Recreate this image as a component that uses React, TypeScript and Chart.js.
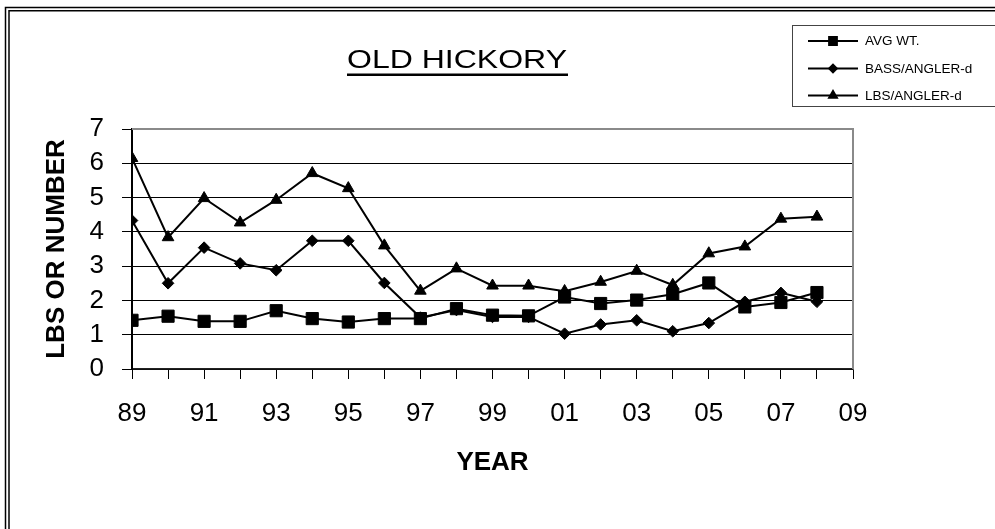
import { useEffect, useRef } from 'react';
import { Chart, registerables } from 'chart.js';
import { drawPoint } from 'chart.js/helpers';

Chart.register(...registerables);

const TITLE = 'OLD HICKORY';
const X_TITLE = 'YEAR';
const Y_TITLE = 'LBS OR NUMBER';

const YEARS = [1989, 1990, 1991, 1992, 1993, 1994, 1995, 1996, 1997, 1998, 1999, 2000, 2001, 2002, 2003, 2004, 2005, 2006, 2007, 2008];
const AVG_WT = [1.42, 1.54, 1.39, 1.39, 1.70, 1.47, 1.37, 1.47, 1.47, 1.76, 1.57, 1.55, 2.10, 1.91, 2.01, 2.18, 2.51, 1.81, 1.94, 2.23];
const BASS_PER_ANGLER = [4.33, 2.50, 3.54, 3.08, 2.88, 3.74, 3.74, 2.51, 1.50, 1.72, 1.52, 1.52, 1.03, 1.30, 1.42, 1.10, 1.34, 1.96, 2.22, 1.96];
const LBS_PER_ANGLER = [6.15, 3.84, 4.98, 4.27, 4.93, 5.71, 5.27, 3.60, 2.28, 2.93, 2.43, 2.43, 2.27, 2.54, 2.86, 2.45, 3.37, 3.57, 4.38, 4.44];
const SERIES_LABELS = ['AVG WT.', 'BASS/ANGLER-d', 'LBS/ANGLER-d'];

const X_MIN = 1989;
const X_MAX = 2009;
const Y_MIN = 0;
const Y_MAX = 7;

const FONT = '"Liberation Sans", Arial, sans-serif';

const framePlugin = {
  id: 'frame',
  afterDraw(chart: any) {
    const ctx = chart.ctx as CanvasRenderingContext2D;
    const W = chart.width;
    const H = chart.height;
    ctx.save();
    ctx.strokeStyle = '#000';
    ctx.lineWidth = 1.5;
    ctx.beginPath();
    ctx.moveTo(5.5, H);
    ctx.lineTo(5.5, 7.5);
    ctx.lineTo(W, 7.5);
    ctx.moveTo(9, H);
    ctx.lineTo(9, 10.8);
    ctx.lineTo(W, 10.8);
    ctx.stroke();
    ctx.restore();
  },
};

const plotBorderPlugin = {
  id: 'plotBorder',
  beforeDatasetsDraw(chart: any) {
    const { ctx, chartArea } = chart;
    ctx.save();
    ctx.strokeStyle = '#8a8a8a';
    ctx.lineWidth = 2;
    ctx.beginPath();
    ctx.moveTo(chartArea.left, chartArea.top);
    ctx.lineTo(chartArea.right, chartArea.top);
    ctx.lineTo(chartArea.right, chartArea.bottom);
    ctx.stroke();
    ctx.restore();
  },
};

const titlePlugin = {
  id: 'underlinedTitle',
  afterDraw(chart: any) {
    const ctx = chart.ctx as CanvasRenderingContext2D;
    ctx.save();
    ctx.font = `25px ${FONT}`;
    ctx.fillStyle = '#000';
    ctx.textAlign = 'center';
    ctx.textBaseline = 'alphabetic';
    const w = ctx.measureText(TITLE).width;
    const sx = 220 / w;
    ctx.translate(457, 68);
    ctx.scale(sx, 1);
    ctx.fillText(TITLE, 0, 0);
    ctx.restore();
    ctx.save();
    ctx.fillStyle = '#000';
    ctx.fillRect(347, 73.5, 221, 2.5);
    ctx.restore();
  },
};

const legendPlugin = {
  id: 'boxLegend',
  afterDraw(chart: any) {
    const ctx = chart.ctx as CanvasRenderingContext2D;
    ctx.save();
    ctx.strokeStyle = '#444';
    ctx.lineWidth = 1;
    ctx.strokeRect(792.5, 25.5, 260, 81);
    const rows = [41, 68.5, 95.5];
    chart.data.datasets.forEach((ds: any, i: number) => {
      const y = rows[i];
      ctx.strokeStyle = '#000';
      ctx.lineWidth = 2;
      ctx.beginPath();
      ctx.moveTo(808, y);
      ctx.lineTo(858, y);
      ctx.stroke();
      ctx.fillStyle = '#000';
      drawPoint(ctx, { pointStyle: ds.pointStyle, radius: ds.legendRadius, borderWidth: 1, rotation: 0 } as any, 833, y);
      ctx.font = `13.5px ${FONT}`;
      ctx.textAlign = 'left';
      ctx.textBaseline = 'middle';
      ctx.fillText(ds.label, 865, y + 0.5);
    });
    ctx.restore();
  },
};

export default function App() {
  const canvasRef = useRef<HTMLCanvasElement | null>(null);

  useEffect(() => {
    document.body.style.margin = '0';
    const canvas = canvasRef.current;
    if (!canvas) return;
    const pts = (vals: number[]) => vals.map((v, i) => ({ x: YEARS[i], y: v }));
    const common = {
      borderColor: '#000',
      backgroundColor: '#000',
      pointBackgroundColor: '#000',
      pointBorderColor: '#000',
      borderWidth: 2,
      pointBorderWidth: 1,
      tension: 0,
    };
    const chart = new Chart(canvas, {
      type: 'line',
      data: {
        datasets: [
          { ...common, label: SERIES_LABELS[0], data: pts(AVG_WT), pointStyle: 'rect', pointRadius: 8.6, legendRadius: 5.5 } as any,
          { ...common, label: SERIES_LABELS[1], data: pts(BASS_PER_ANGLER), pointStyle: 'rectRot', pointRadius: 5.8, legendRadius: 3.8 } as any,
          { ...common, label: SERIES_LABELS[2], data: pts(LBS_PER_ANGLER), pointStyle: 'triangle', pointRadius: 6.7, legendRadius: 4.5 } as any,
        ],
      },
      options: {
        responsive: false,
        animation: false,
        devicePixelRatio: 1,
        layout: { padding: { top: 129, right: 142, bottom: 40, left: 0 } },
        plugins: {
          legend: { display: false },
          title: { display: false },
          tooltip: { enabled: false },
        },
        scales: {
          x: {
            type: 'linear',
            min: X_MIN,
            max: X_MAX,
            afterFit: (scale: any) => { scale.height = 120; },
            grid: { drawOnChartArea: false, drawTicks: true, tickLength: 10, color: '#000', lineWidth: 1 },
            border: { color: '#222', width: 1.5 },
            ticks: {
              stepSize: 1,
              autoSkip: false,
              maxRotation: 0,
              minRotation: 0,
              padding: 19,
              color: '#000',
              font: { family: FONT, size: 26 },
              callback: (v: any) => (Number(v) % 2 === 1 ? String(Number(v) % 100).padStart(2, '0') : ''),
            },
            title: {
              display: true,
              text: X_TITLE,
              color: '#000',
              font: { family: FONT, size: 26, weight: 'bold' },
              padding: { top: 0, bottom: 11 },
            },
          },
          y: {
            min: Y_MIN,
            max: Y_MAX,
            afterFit: (scale: any) => { scale.width = 132; },
            grid: {
              drawTicks: true,
              tickLength: 10,
              lineWidth: 1,
              color: (c: any) => (c.tick && c.tick.value === Y_MAX ? '#8a8a8a' : '#000'),
              tickColor: '#000',
            },
            border: { color: '#000', width: 2 },
            ticks: {
              stepSize: 1,
              padding: 18,
              color: '#000',
              font: { family: FONT, size: 26 },
            },
            title: {
              display: true,
              text: Y_TITLE,
              color: '#000',
              font: { family: FONT, size: 26, weight: 'bold' },
              padding: { top: 41, bottom: 0 },
            },
          },
        },
      } as any,
      plugins: [plotBorderPlugin, framePlugin, titlePlugin, legendPlugin],
    });
    return () => chart.destroy();
  }, []);

  return (
    <div style={{ width: 995, height: 529, position: 'relative', background: '#fff' }}>
      <canvas ref={canvasRef} width={995} height={529} style={{ display: 'block' }} />
    </div>
  );
}
